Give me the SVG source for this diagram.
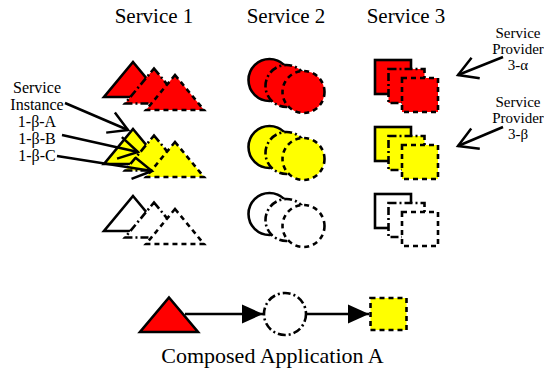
<svg xmlns="http://www.w3.org/2000/svg" width="544" height="371" viewBox="0 0 544 371">
<defs>
<style>
text{font-family:'Liberation Serif','Times New Roman',Times,'DejaVu Serif',serif;fill:#000}
.hdr{font-size:21px;text-anchor:middle}
.lbl{font-size:16px;text-anchor:middle}
.plbl{font-size:15px;text-anchor:middle}
.cap{font-size:22px;text-anchor:middle}
.s{stroke:#000;stroke-width:2.6;stroke-linejoin:miter}
.dd{stroke-dasharray:8 3 2 3}
.da{stroke-dasharray:5 4}
.red{fill:#ff0000}
.yel{fill:#ffff00}
.wht{fill:#ffffff}
.conn{stroke:#000;stroke-width:2.5;fill:none}
</style>
<marker id="open" viewBox="-24 -14 28 28" refX="0" refY="0" markerWidth="28" markerHeight="28" markerUnits="userSpaceOnUse" orient="auto">
<path d="M-19,-11 L0,0 L-19,11" fill="none" stroke="#000" stroke-width="2.5"/>
</marker>
<marker id="solid" viewBox="-22 -10 23 20" refX="0" refY="0" markerWidth="23" markerHeight="20" markerUnits="userSpaceOnUse" orient="auto">
<path d="M-21,-9.5 L0,0 L-21,9.5 z" fill="#000"/>
</marker>
<polygon id="tri" points="0,0 29,35 -29,35"/>
<circle id="circ" cx="0" cy="0" r="21"/>
<rect id="sq" x="0" y="0" width="36" height="34"/>
</defs>

<g id="headers">
<text class="hdr" x="154" y="23">Service 1</text>
<text class="hdr" x="286" y="23">Service 2</text>
<text class="hdr" x="406" y="23">Service 3</text>
</g>

<g id="service1">
<g id="tri-red">
<use href="#tri" x="133" y="62" class="s red"/>
<use href="#tri" x="154" y="68.5" class="s red dd"/>
<use href="#tri" x="175" y="75" class="s red da"/>
</g>
<g id="tri-yellow">
<use href="#tri" x="133" y="129" class="s yel"/>
<use href="#tri" x="154" y="135.5" class="s yel dd"/>
<use href="#tri" x="175" y="142" class="s yel da"/>
</g>
<g id="tri-white">
<use href="#tri" x="133" y="196" class="s wht"/>
<use href="#tri" x="154" y="202.5" class="s wht dd"/>
<use href="#tri" x="175" y="209" class="s wht da"/>
</g>
</g>

<g id="service2">
<g id="circ-red">
<use href="#circ" x="269.5" y="80" class="s red"/>
<use href="#circ" x="286.5" y="86" class="s red dd"/>
<use href="#circ" x="303.5" y="92" class="s red da"/>
</g>
<g id="circ-yellow">
<use href="#circ" x="269.5" y="147" class="s yel"/>
<use href="#circ" x="286.5" y="153" class="s yel dd"/>
<use href="#circ" x="303.5" y="159" class="s yel da"/>
</g>
<g id="circ-white">
<use href="#circ" x="269.5" y="214" class="s wht"/>
<use href="#circ" x="286.5" y="220" class="s wht dd"/>
<use href="#circ" x="303.5" y="226" class="s wht da"/>
</g>
</g>

<g id="service3">
<g id="sq-red">
<use href="#sq" x="375" y="60" class="s red"/>
<use href="#sq" x="388.5" y="69" class="s red dd"/>
<use href="#sq" x="402" y="78" class="s red da"/>
</g>
<g id="sq-yellow">
<use href="#sq" x="375" y="127" class="s yel"/>
<use href="#sq" x="388.5" y="136" class="s yel dd"/>
<use href="#sq" x="402" y="145" class="s yel da"/>
</g>
<g id="sq-white">
<use href="#sq" x="375" y="194" class="s wht"/>
<use href="#sq" x="388.5" y="203" class="s wht dd"/>
<use href="#sq" x="402" y="212" class="s wht da"/>
</g>
</g>

<g id="label-instance">
<text class="lbl" x="37" y="93">Service</text>
<text class="lbl" x="37" y="110">Instance</text>
<text class="lbl" x="37" y="127">1-β-A</text>
<text class="lbl" x="37" y="144">1-β-B</text>
<text class="lbl" x="37" y="161">1-β-C</text>
</g>

<g id="label-provider-alpha">
<text class="plbl" x="518" y="38">Service</text>
<text class="plbl" x="518" y="54">Provider</text>
<text class="plbl" x="518" y="70">3-α</text>
</g>

<g id="label-provider-beta">
<text class="plbl" x="518" y="107">Service</text>
<text class="plbl" x="518" y="123">Provider</text>
<text class="plbl" x="518" y="139">3-β</text>
</g>

<g id="composed">
<g id="app-triangle"><polygon points="169,297.5 198,332 140,332" class="s red"/></g>
<g id="app-circle"><circle cx="285" cy="314" r="21" class="s dd" fill="none"/></g>
<g id="app-square"><rect x="370.5" y="298" width="36" height="32" class="s yel da"/></g>
<text class="cap" x="272.5" y="363">Composed Application A</text>
</g>

<g id="connectors">
<line x1="185" y1="314" x2="263" y2="314" class="conn" marker-end="url(#solid)"/>
<line x1="307" y1="314" x2="369" y2="314" class="conn" marker-end="url(#solid)"/>
<line x1="65" y1="103" x2="128" y2="130" class="conn" marker-end="url(#open)"/>
<line x1="62" y1="135" x2="138" y2="152" class="conn" marker-end="url(#open)"/>
<line x1="57" y1="156" x2="152" y2="171" class="conn" marker-end="url(#open)"/>
<line x1="503" y1="57" x2="458" y2="75" class="conn" marker-end="url(#open)"/>
<line x1="503" y1="127" x2="458" y2="146" class="conn" marker-end="url(#open)"/>
</g>
</svg>
